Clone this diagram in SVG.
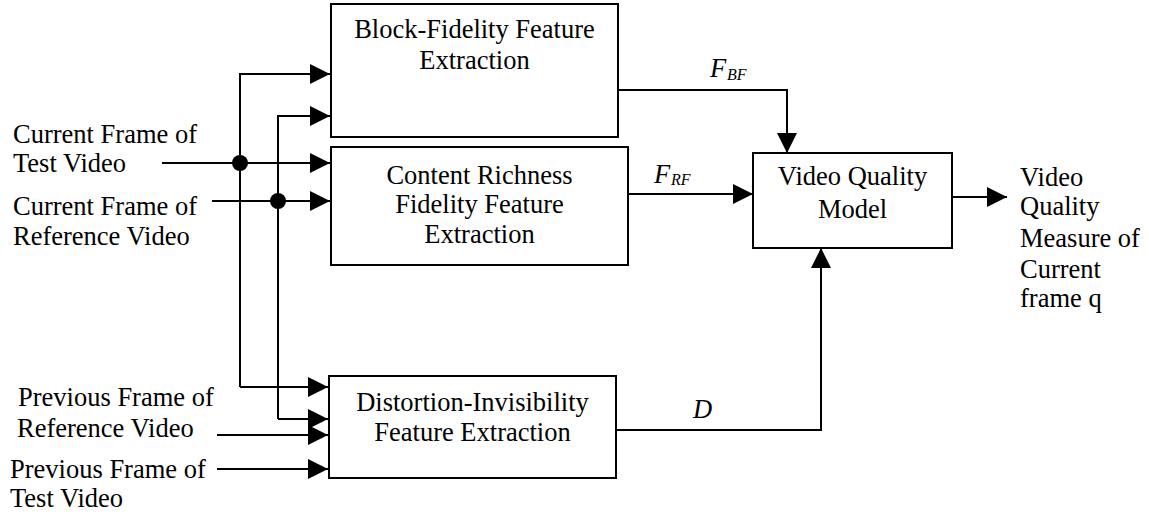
<svg xmlns="http://www.w3.org/2000/svg" width="1149" height="519" viewBox="0 0 1149 519">
<defs>
<style>
.box{fill:#fff;stroke:#000;stroke-width:2}
.ln{fill:none;stroke:#000;stroke-width:2}
.arr{marker-end:url(#ah)}
text{font-family:"Liberation Serif","Times New Roman",serif;font-size:26.5px;fill:#000}
.c{text-anchor:middle}
.it{font-style:italic}
.sub{font-size:16px;font-style:italic}
</style>
<marker id="ah" markerUnits="userSpaceOnUse" markerWidth="20" markerHeight="20" refX="20" refY="10" orient="auto">
<path d="M0,0 L20,10 L0,20 z" fill="#000"/>
</marker>
</defs>
<rect width="1149" height="519" fill="#fff"/>

<g id="connectors">
<path class="ln arr" d="M162,163 L330,163"/>
<path class="ln arr" d="M212,201 L330,201"/>
<path class="ln arr" d="M240,387 L240,74 L330,74"/>
<path class="ln arr" d="M278,419 L278,116 L330,116"/>
<path class="ln arr" d="M240,387 L328,387"/>
<path class="ln arr" d="M278,419 L328,419"/>
<path class="ln arr" d="M217,435 L328,435"/>
<path class="ln arr" d="M217,469 L328,469"/>
<circle cx="240" cy="163" r="8" fill="#000"/>
<circle cx="278" cy="201" r="8" fill="#000"/>
<path class="ln arr" d="M618,90 L787,90 L787,153"/>
<path class="ln arr" d="M628,194 L753,194"/>
<path class="ln arr" d="M616,430 L821,430 L821,248"/>
<path class="ln arr" d="M952,197 L1007,197"/>
<text x="710" y="77" class="it">F</text><text x="727" y="80" class="sub">BF</text>
<text x="654" y="183" class="it">F</text><text x="671" y="185" class="sub">RF</text>
<text x="693" y="418" class="it">D</text>
</g>

<g id="block-fidelity">
<rect class="box" x="331" y="4" width="287" height="133"/>
<text x="474.5" y="38" class="c">Block-Fidelity Feature</text>
<text x="474.5" y="69" class="c">Extraction</text>
</g>

<g id="content-richness">
<rect class="box" x="331" y="147" width="297" height="118"/>
<text x="479.5" y="184" class="c">Content Richness</text>
<text x="479.5" y="213" class="c">Fidelity Feature</text>
<text x="479.5" y="243" class="c">Extraction</text>
</g>

<g id="distortion">
<rect class="box" x="329" y="376" width="287" height="102"/>
<text x="472.5" y="411" class="c">Distortion-Invisibility</text>
<text x="472.5" y="441" class="c">Feature Extraction</text>
</g>

<g id="vqm">
<rect class="box" x="753" y="153" width="199" height="95"/>
<text x="852.5" y="185" class="c">Video Quality</text>
<text x="852.5" y="218" class="c">Model</text>
</g>

<g id="input-labels">
<text x="13" y="143">Current Frame of</text>
<text x="13" y="172">Test Video</text>
<text x="13" y="215">Current Frame of</text>
<text x="13" y="245">Reference Video</text>
<text x="18" y="406">Previous Frame of</text>
<text x="17" y="437">Reference Video</text>
<text x="10" y="478">Previous Frame of</text>
<text x="10" y="507">Test Video</text>
</g>

<g id="output-label">
<text x="1020" y="186">Video</text>
<text x="1020" y="215">Quality</text>
<text x="1020" y="247">Measure of</text>
<text x="1020" y="278">Current</text>
<text x="1020" y="307">frame q</text>
</g>
</svg>
